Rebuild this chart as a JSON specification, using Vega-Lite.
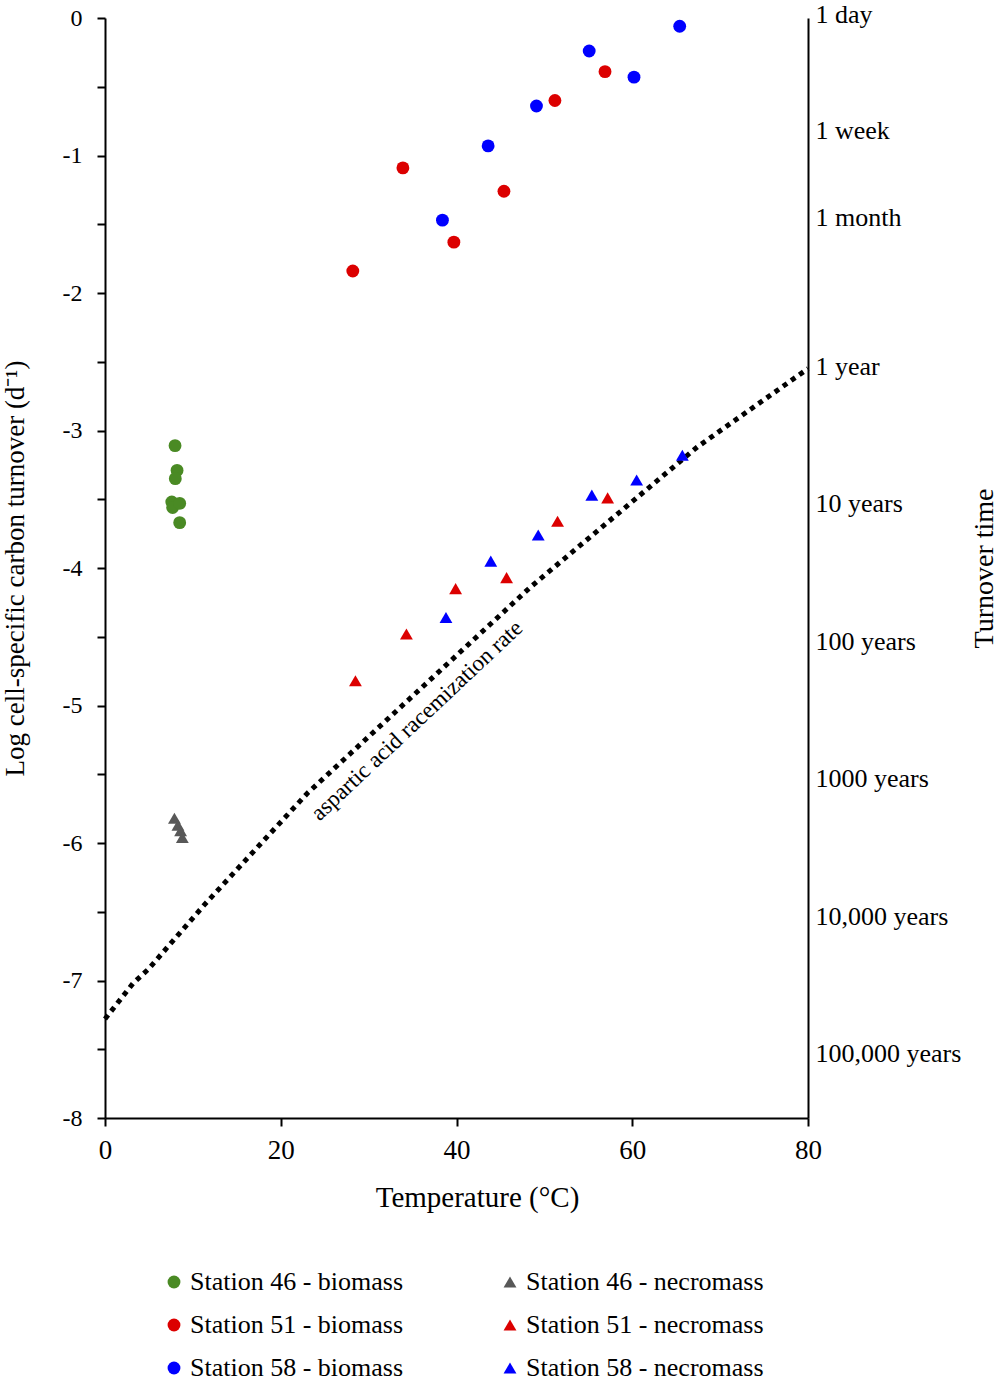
{
  "$schema": "https://vega.github.io/schema/vega-lite/v6.json",
  "description": "Cell-specific carbon turnover vs temperature, with aspartic acid racemization rate",
  "width": 703,
  "height": 1100,
  "autosize": {"type": "none"},
  "padding": {"left": 105, "top": 18, "right": 192, "bottom": 263},
  "config": {
    "view": {"stroke": null},
    "font": "Liberation Serif",
    "axis": {
      "grid": false,
      "domainColor": "black",
      "domainWidth": 2,
      "tickColor": "black",
      "tickWidth": 2,
      "labelColor": "black",
      "titleColor": "black",
      "titleFontWeight": "normal",
      "labelFont": "Liberation Serif",
      "titleFont": "Liberation Serif"
    }
  },
  "layer": [
    {
      "data": {
        "values": [
          {"temp": 0, "log": -7.28},
          {"temp": 3.2, "log": -7.02},
          {"temp": 4.9, "log": -6.92},
          {"temp": 11.3, "log": -6.45},
          {"temp": 23.0, "log": -5.64},
          {"temp": 48.4, "log": -4.14},
          {"temp": 67.4, "log": -3.12},
          {"temp": 80, "log": -2.55}
        ]
      },
      "mark": {"type": "line", "color": "black", "strokeWidth": 5, "strokeDash": [5, 5], "strokeCap": "butt"},
      "encoding": {
        "x": {
          "field": "temp",
          "type": "quantitative",
          "scale": {"domain": [0, 80], "nice": false},
          "axis": {
            "values": [0, 20, 40, 60, 80],
            "tickSize": 8,
            "labelPadding": 11,
            "labelFontSize": 27,
            "labelFlush": false,
            "title": "Temperature (°C)",
            "titleFontSize": 29,
            "titlePadding": 20,
            "titleX": 372
          }
        },
        "y": {
          "field": "log",
          "type": "quantitative",
          "scale": {"domain": [-8, 0], "nice": false},
          "axis": {
            "orient": "right",
            "values": [0, -0.845, -1.477, -2.562, -3.562, -4.562, -5.562, -6.562, -7.562],
            "labelExpr": "datum.value > -0.5 ? '1 day' : datum.value > -1.2 ? '1 week' : datum.value > -2 ? '1 month' : datum.value > -3 ? '1 year' : datum.value > -4 ? '10 years' : datum.value > -5 ? '100 years' : datum.value > -6 ? '1000 years' : datum.value > -7 ? '10,000 years' : '100,000 years'",
            "ticks": false,
            "labelPadding": 7,
            "labelOffset": -4,
            "labelFontSize": 26,
            "title": "Turnover time",
            "titleAngle": 270,
            "titleFontSize": 28,
            "titlePadding": 38
          }
        }
      }
    },
    {
      "data": {
        "values": [
          {"temp": 7.97, "log": -3.11, "series": "Station 46 - biomass"},
          {"temp": 8.2, "log": -3.29, "series": "Station 46 - biomass"},
          {"temp": 8.0, "log": -3.35, "series": "Station 46 - biomass"},
          {"temp": 7.6, "log": -3.52, "series": "Station 46 - biomass"},
          {"temp": 7.7, "log": -3.56, "series": "Station 46 - biomass"},
          {"temp": 8.5, "log": -3.53, "series": "Station 46 - biomass"},
          {"temp": 8.5, "log": -3.67, "series": "Station 46 - biomass"},
          {"temp": 7.9, "log": -5.82, "series": "Station 46 - necromass"},
          {"temp": 8.3, "log": -5.87, "series": "Station 46 - necromass"},
          {"temp": 8.6, "log": -5.91, "series": "Station 46 - necromass"},
          {"temp": 8.8, "log": -5.96, "series": "Station 46 - necromass"},
          {"temp": 28.2, "log": -1.84, "series": "Station 51 - biomass"},
          {"temp": 33.9, "log": -1.09, "series": "Station 51 - biomass"},
          {"temp": 39.7, "log": -1.63, "series": "Station 51 - biomass"},
          {"temp": 45.4, "log": -1.26, "series": "Station 51 - biomass"},
          {"temp": 51.2, "log": -0.6, "series": "Station 51 - biomass"},
          {"temp": 56.9, "log": -0.39, "series": "Station 51 - biomass"},
          {"temp": 28.5, "log": -4.82, "series": "Station 51 - necromass"},
          {"temp": 34.3, "log": -4.48, "series": "Station 51 - necromass"},
          {"temp": 39.9, "log": -4.15, "series": "Station 51 - necromass"},
          {"temp": 45.7, "log": -4.07, "series": "Station 51 - necromass"},
          {"temp": 51.5, "log": -3.66, "series": "Station 51 - necromass"},
          {"temp": 57.2, "log": -3.49, "series": "Station 51 - necromass"},
          {"temp": 38.4, "log": -1.47, "series": "Station 58 - biomass"},
          {"temp": 43.6, "log": -0.93, "series": "Station 58 - biomass"},
          {"temp": 49.1, "log": -0.64, "series": "Station 58 - biomass"},
          {"temp": 55.1, "log": -0.24, "series": "Station 58 - biomass"},
          {"temp": 60.2, "log": -0.43, "series": "Station 58 - biomass"},
          {"temp": 65.4, "log": -0.06, "series": "Station 58 - biomass"},
          {"temp": 38.8, "log": -4.36, "series": "Station 58 - necromass"},
          {"temp": 43.9, "log": -3.95, "series": "Station 58 - necromass"},
          {"temp": 49.3, "log": -3.76, "series": "Station 58 - necromass"},
          {"temp": 55.4, "log": -3.47, "series": "Station 58 - necromass"},
          {"temp": 60.5, "log": -3.36, "series": "Station 58 - necromass"},
          {"temp": 65.7, "log": -3.18, "series": "Station 58 - necromass"}
        ]
      },
      "mark": {"type": "point", "filled": true, "opacity": 1},
      "encoding": {
        "x": {"field": "temp", "type": "quantitative", "scale": {"domain": [0, 80], "nice": false}},
        "y": {
          "field": "log",
          "type": "quantitative",
          "scale": {"domain": [-8, 0], "nice": false},
          "axis": {
            "orient": "left",
            "values": [-8, -7.5, -7, -6.5, -6, -5.5, -5, -4.5, -4, -3.5, -3, -2.5, -2, -1.5, -1, -0.5, 0],
            "labelExpr": "datum.value % 1 === 0 ? '' + datum.value : ''",
            "tickSize": 8,
            "labelPadding": 15,
            "labelFontSize": 24,
            "title": "Log cell-specific carbon turnover (d⁻¹)",
            "titleFontSize": 27,
            "titlePadding": 33
          }
        },
        "color": {
          "field": "series",
          "type": "nominal",
          "scale": {
            "domain": ["Station 46 - biomass", "Station 51 - biomass", "Station 58 - biomass", "Station 46 - necromass", "Station 51 - necromass", "Station 58 - necromass"],
            "range": ["#4a8a24", "#dc0000", "#0000ff", "#585858", "#dc0000", "#0000ff"]
          },
          "legend": {
            "orient": "none",
            "legendX": 56,
            "legendY": 1251,
            "columns": 2,
            "title": null,
            "padding": 0,
            "labelFontSize": 26,
            "labelFont": "Liberation Serif",
            "labelColor": "black",
            "labelLimit": 0,
            "labelOffset": 3,
            "symbolSize": 140,
            "symbolStrokeWidth": 0,
            "columnPadding": 93,
            "rowPadding": 17
          }
        },
        "shape": {
          "field": "series",
          "type": "nominal",
          "scale": {
            "domain": ["Station 46 - biomass", "Station 51 - biomass", "Station 58 - biomass", "Station 46 - necromass", "Station 51 - necromass", "Station 58 - necromass"],
            "range": ["circle", "circle", "circle", "triangle-up", "triangle-up", "triangle-up"]
          }
        },
        "size": {
          "field": "series",
          "type": "nominal",
          "scale": {
            "domain": ["Station 46 - biomass", "Station 51 - biomass", "Station 58 - biomass", "Station 46 - necromass", "Station 51 - necromass", "Station 58 - necromass"],
            "range": [165, 165, 165, 290, 290, 290]
          },
          "legend": null
        }
      }
    },
    {
      "data": {
        "values": [
          {"temp": 35.5, "log": -5.11, "label": "aspartic acid racemization rate"}
        ]
      },
      "mark": {"type": "text", "angle": 316.8, "fontSize": 23, "font": "Liberation Serif", "color": "black"},
      "encoding": {
        "x": {"field": "temp", "type": "quantitative", "scale": {"domain": [0, 80], "nice": false}},
        "y": {"field": "log", "type": "quantitative", "scale": {"domain": [-8, 0], "nice": false}, "axis": null},
        "text": {"field": "label"}
      }
    }
  ],
  "resolve": {"scale": {"y": "independent"}}
}
